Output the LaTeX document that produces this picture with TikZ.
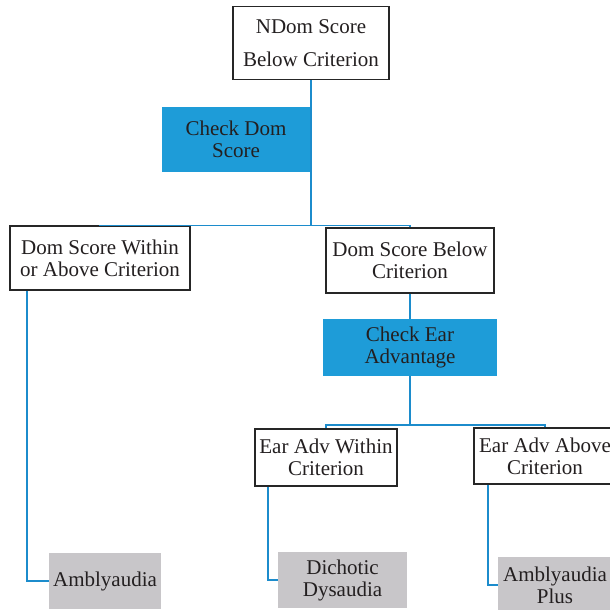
\documentclass[tikz,border=0pt]{standalone}
\usepackage{fontspec}
\setmainfont{Liberation Serif}
\usetikzlibrary{calc}
\definecolor{boxblue}{RGB}{30,156,216}
\definecolor{lineblue}{RGB}{28,140,204}
\definecolor{boxgray}{RGB}{200,198,201}
\definecolor{txt}{RGB}{35,31,32}
\tikzset{
  base/.style={rectangle, inner sep=0pt, align=center, text=txt,
    font=\fontsize{21}{22}\selectfont},
  whitebox/.style={base, draw=black!85, line width=1.8pt, fill=white},
  checkbox/.style={base, fill=boxblue},
  resultbox/.style={base, fill=boxgray},
  conn/.style={draw=lineblue, line width=1.8pt}
}
\begin{document}
\begin{tikzpicture}[x=1pt,y=-1pt]
\useasboundingbox (0,0) rectangle (610,610);
% nodes
\node[whitebox, minimum width=156pt, minimum height=73pt,
  font=\fontsize{21}{33}\selectfont] (top) at (311,43) {NDom Score\\Below Criterion};
\node[checkbox, minimum width=148pt, minimum height=65pt] (chk1) at (236,139.5) {Check Dom\\Score};
\node[whitebox, minimum width=180pt, minimum height=64pt] (L1) at (100,258) {Dom Score Within\\or Above Criterion};
\node[whitebox, minimum width=168pt, minimum height=65pt] (R1) at (410,260.5) {Dom Score Below\\Criterion};
\node[checkbox, minimum width=174pt, minimum height=57pt] (chk2) at (410,347.5) {Check Ear\\Advantage};
\node[whitebox, minimum width=142pt, minimum height=57pt] (L2) at (326,457.5) {Ear Adv Within\\Criterion};
\node[whitebox, minimum width=142pt, minimum height=56pt] (R2) at (545,456) {Ear Adv Above\\Criterion};
\node[resultbox, minimum width=112pt, minimum height=56pt] (A1) at (105,581) {Amblyaudia};
\node[resultbox, minimum width=129pt, minimum height=56pt] (D) at (342.5,580) {Dichotic\\Dysaudia};
\node[resultbox, minimum width=114pt, minimum height=56pt] (AP) at (555,585) {Amblyaudia\\Plus};
% connectors
\coordinate (b1) at ($(top.south)+(0,145)$);
\coordinate (b2) at ($(chk2.south)+(0,49)$);
\draw[conn] (top.south) -- (b1);
\draw[conn] (b1) -| (L1.north);
\draw[conn] (b1) -| (R1.north);
\draw[conn] (R1.south) -- (chk2.north);
\draw[conn] (chk2.south) -- (b2);
\draw[conn] (b2) -| (L2.north);
\draw[conn] (b2) -| (R2.north);
\draw[conn] ($(L1.south west)+(18,0)$) |- (A1.west);
\draw[conn] ($(L2.south west)+(14,0)$) |- (D.west);
\draw[conn] ($(R2.south west)+(15,0)$) |- (AP.west);
\end{tikzpicture}
\end{document}
